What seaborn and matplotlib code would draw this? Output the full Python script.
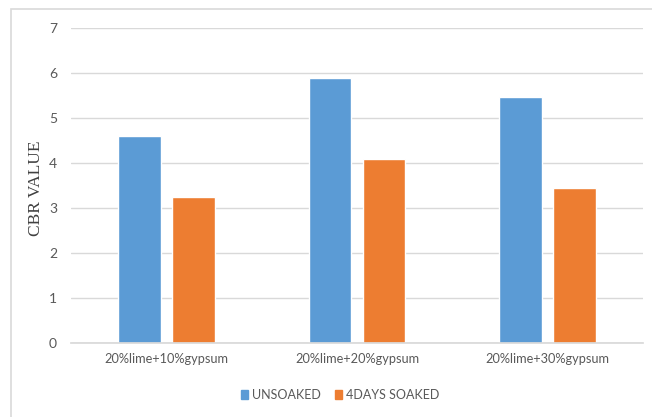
import matplotlib
matplotlib.use("Agg")
import matplotlib.pyplot as plt
from matplotlib.patches import Rectangle, Patch
import seaborn as sns
import pandas as pd

categories = ["20%lime+10%gypsum", "20%lime+20%gypsum", "20%lime+30%gypsum"]
unsoaked = [4.6, 5.9, 5.47]
soaked_4days = [3.25, 4.1, 3.44]
series_names = ["UNSOAKED", "4DAYS SOAKED"]
y_ticks = [0, 1, 2, 3, 4, 5, 6, 7]

df = pd.DataFrame({
    "mix": categories * 2,
    "cbr": unsoaked + soaked_4days,
    "condition": [series_names[0]] * 3 + [series_names[1]] * 3,
})

sns.set_theme(style="white")
plt.rcParams["font.family"] = ["Lato", "DejaVu Sans"]

W, H = 652, 417
fig = plt.figure(figsize=(W / 100, H / 100), dpi=100)
ax = fig.add_axes([71 / W, 1 - 343 / H, (643 - 71) / W, (343 - 28) / H])

sns.barplot(data=df, x="mix", y="cbr", hue="condition", order=categories,
            hue_order=series_names, palette=["#5B9BD5", "#ED7D31"],
            width=0.567, gap=0.21, saturation=1, legend=False, ax=ax,
            errorbar=None)

ax.set_ylim(0, 7)
ax.set_xlim(-0.5, 2.5)
ax.set_yticks(y_ticks)
ax.set_yticklabels([str(t) for t in y_ticks])
ax.yaxis.grid(True, color="#D9D9D9", linewidth=1)
ax.set_axisbelow(True)
for s in ["top", "right", "left"]:
    ax.spines[s].set_visible(False)
ax.spines["bottom"].set_color("#D9D9D9")
ax.tick_params(axis="both", length=0, colors="#595959")
ax.tick_params(axis="y", pad=10, labelsize=10)
ax.tick_params(axis="x", pad=7, labelsize=9.2)
ax.set_xlabel("")
ax.set_ylabel("CBR VALUE", family=["Liberation Serif"], fontsize=12.5,
              color="#404040")
ax.yaxis.set_label_coords(-0.047, 0.49)

# legend below the plot
handles = [Patch(color="#5B9BD5", label=series_names[0]),
           Patch(color="#ED7D31", label=series_names[1])]
fig.legend(handles=handles, loc="center", bbox_to_anchor=(340 / W, 1 - 395 / H),
           ncol=2, frameon=False, fontsize=9, handlelength=0.6, handleheight=0.65,
           handletextpad=0.3, columnspacing=1.1, labelcolor="#595959")

# chart frame
fig.patches.append(Rectangle((11 / W, -0.1), 1.2, 1 - 9 / H + 0.1,
                             transform=fig.transFigure, fill=False,
                             edgecolor="#D9D9D9", linewidth=1.2))

fig.savefig("out.png", dpi=100, facecolor="white")
